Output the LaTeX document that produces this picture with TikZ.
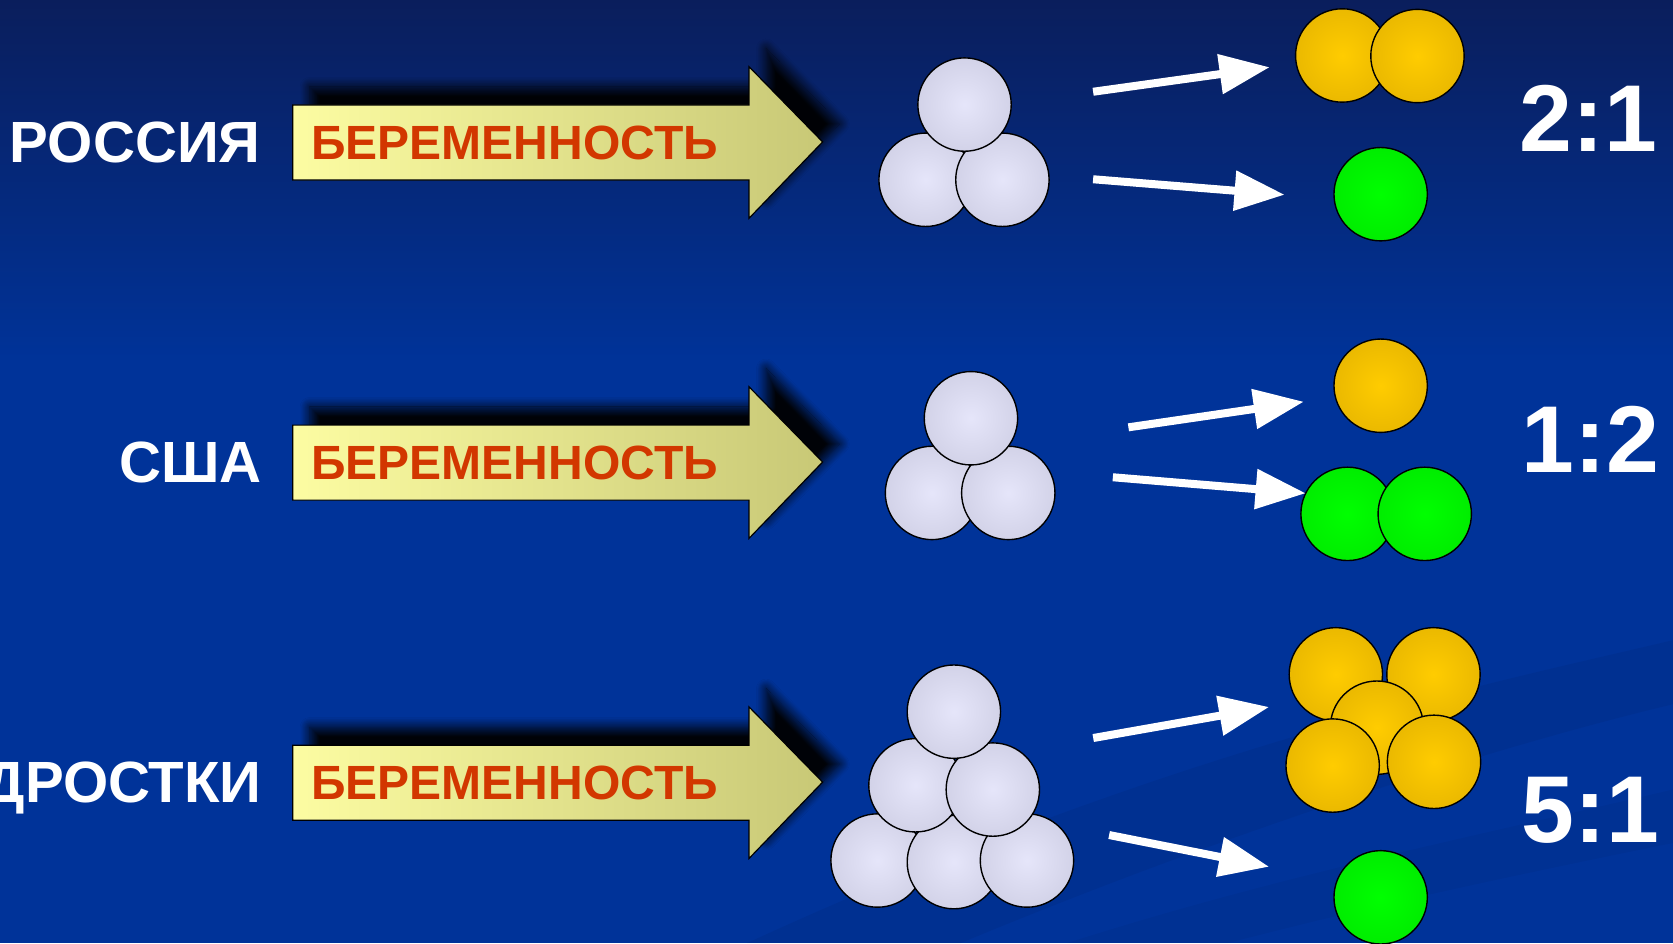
\documentclass[tikz,border=0pt]{standalone}
\usepackage{fontspec}
\setmainfont{Liberation Sans}
\usetikzlibrary{arrows.meta,shadows.blur}

\definecolor{bgtop}{RGB}{10,30,92}
\definecolor{bgbot}{RGB}{0,51,153}
\definecolor{ylight}{RGB}{252,252,162}
\definecolor{ydark}{RGB}{200,200,118}
\definecolor{wordred}{RGB}{210,55,0}

\pgfdeclareradialshading{greyball}{\pgfpointorigin}{rgb(0bp)=(0.90,0.90,0.98);rgb(50bp)=(0.75,0.75,0.84)}
\pgfdeclareradialshading{goldball}{\pgfpointorigin}{rgb(0bp)=(1.0,0.80,0.0);rgb(50bp)=(0.84,0.65,0.0)}
\pgfdeclareradialshading{greenball}{\pgfpointorigin}{rgb(0bp)=(0.0,1.0,0.0);rgb(50bp)=(0.0,0.86,0.0)}

\tikzset{
  ball/.style={circle, minimum size=87.5pt, inner sep=0pt, outer sep=0pt, draw=black, line width=1.3pt},
  greyb/.style={ball, shading=greyball},
  goldb/.style={ball, shading=goldball},
  greenb/.style={ball, shading=greenball},
  yarrow/.style={draw=black, line width=1.1pt, left color=ylight, right color=ydark,
    blur shadow={shadow xshift=16pt, shadow yshift=17pt, shadow blur radius=9pt, shadow blur steps=12, shadow opacity=95}},
  warrow/.style={draw=white, line width=7.5pt, -{Triangle[length=47pt, width=36pt]}},
  country/.style={font=\fontsize{54.5}{60}\selectfont\bfseries, text=white, inner sep=0pt, anchor=base east},
  word/.style={font=\fontsize{45}{50}\selectfont\bfseries, text=wordred, inner sep=0pt, anchor=base west},
  ratio/.style={font=\fontsize{89}{95}\selectfont\bfseries, text=white, inner sep=0pt, anchor=base west},
}

\begin{document}
\begin{tikzpicture}[x=1pt, y=-1pt]
\useasboundingbox (0,0) rectangle (1568,884);
\clip (0,0) rectangle (1568,884);
\fill[bgbot] (0,0) rectangle (1568,884);
\fill[top color=bgtop, bottom color=bgbot] (0,0) rectangle (1568,340);
% faint swooshes
\fill[black, opacity=0.05] (700,884) .. controls (1100,700) and (1400,640) .. (1568,600) -- (1568,660) .. controls (1400,700) and (1150,780) .. (900,884) -- cycle;
\fill[black, opacity=0.04] (1000,884) .. controls (1200,820) and (1400,780) .. (1568,740) -- (1568,790) .. controls (1420,820) and (1280,850) .. (1150,884) -- cycle;

% ---------- row arrows ----------
\foreach \dy/\nm in {0/a, 300/b, 600/c}{
  \path[yarrow] (274.3,98.4+\dy) -- (702,98.4+\dy) -- (702,62.5+\dy) -- (771,133+\dy) -- (702,204.6+\dy) -- (702,168.7+\dy) -- (274.3,168.7+\dy) -- cycle;
}
\node[word] (w1) at (291.5,149.3) {БЕРЕМЕННОСТЬ};
\node[word] (w2) at (291.5,449.3) {БЕРЕМЕННОСТЬ};
\node[word] (w3) at (291.5,749.3) {БЕРЕМЕННОСТЬ};

\node[country] (c1) at (244.5,152.5) {РОССИЯ};
\node[country] (c2) at (245.5,452.5) {США};
\node[country] (c3) at (245.5,752.5) {ПОДРОСТКИ};

% ---------- grey groups ----------
\node[greyb] (g1a) at (867.5,168.5) {};
\node[greyb] (g1b) at (939.5,168.5) {};
\node[greyb] (g1c) at (904,98) {};

\node[greyb] (g2a) at (873.5,462) {};
\node[greyb] (g2b) at (945,462) {};
\node[greyb] (g2c) at (910,392) {};

\node[greyb] (g3a) at (822.5,806.5) {};
\node[greyb] (g3b) at (894,808) {};
\node[greyb] (g3c) at (962.5,806.5) {};
\node[greyb] (g3d) at (858,736) {};
\node[greyb] (g3e) at (930.5,740) {};
\node[greyb] (g3f) at (894,667) {};

% ---------- results ----------
\node[goldb] (o1a) at (1258,52) {};
\node[goldb] (o1b) at (1328.5,52.5) {};
\node[greenb] (n1a) at (1294,182) {};

\node[goldb] (o2a) at (1294,361.5) {};
\node[greenb] (n2a) at (1263,481.6) {};
\node[greenb] (n2b) at (1335.3,481.6) {};

\node[goldb] (o3a) at (1252,632) {};
\node[goldb] (o3b) at (1343.5,632) {};
\node[goldb] (o3c) at (1290.5,682) {};
\node[goldb] (o3d) at (1249,717.5) {};
\node[goldb] (o3e) at (1344,714) {};
\node[greenb] (n3a) at (1294,841) {};

% ---------- white arrows ----------
\coordinate (s1a) at (1024.5,86);   \coordinate (e1a) at (1190,63);
\coordinate (s1b) at (1024.5,168);  \coordinate (e1b) at (1204,182.5);
\coordinate (s2a) at (1057.6,400.5); \coordinate (e2a) at (1222,376.5);
\coordinate (s2b) at (1043,447.3);  \coordinate (e2b) at (1223.8,462.3);
\coordinate (s3a) at (1024.6,691.7); \coordinate (e3a) at (1189.5,662.6);
\coordinate (s3b) at (1039.5,782.6); \coordinate (e3b) at (1189.5,812.3);
\draw[warrow] (s1a) -- (e1a);
\draw[warrow] (s1b) -- (e1b);
\draw[warrow] (s2a) -- (e2a);
\draw[warrow] (s2b) -- (e2b);
\draw[warrow] (s3a) -- (e3a);
\draw[warrow] (s3b) -- (e3b);

% ---------- ratios ----------
\node[ratio] (r1) at (1424,142) {2:1};
\node[ratio] (r2) at (1426,443) {1:2};
\node[ratio] (r3) at (1426,790) {5:1};
\end{tikzpicture}
\end{document}
